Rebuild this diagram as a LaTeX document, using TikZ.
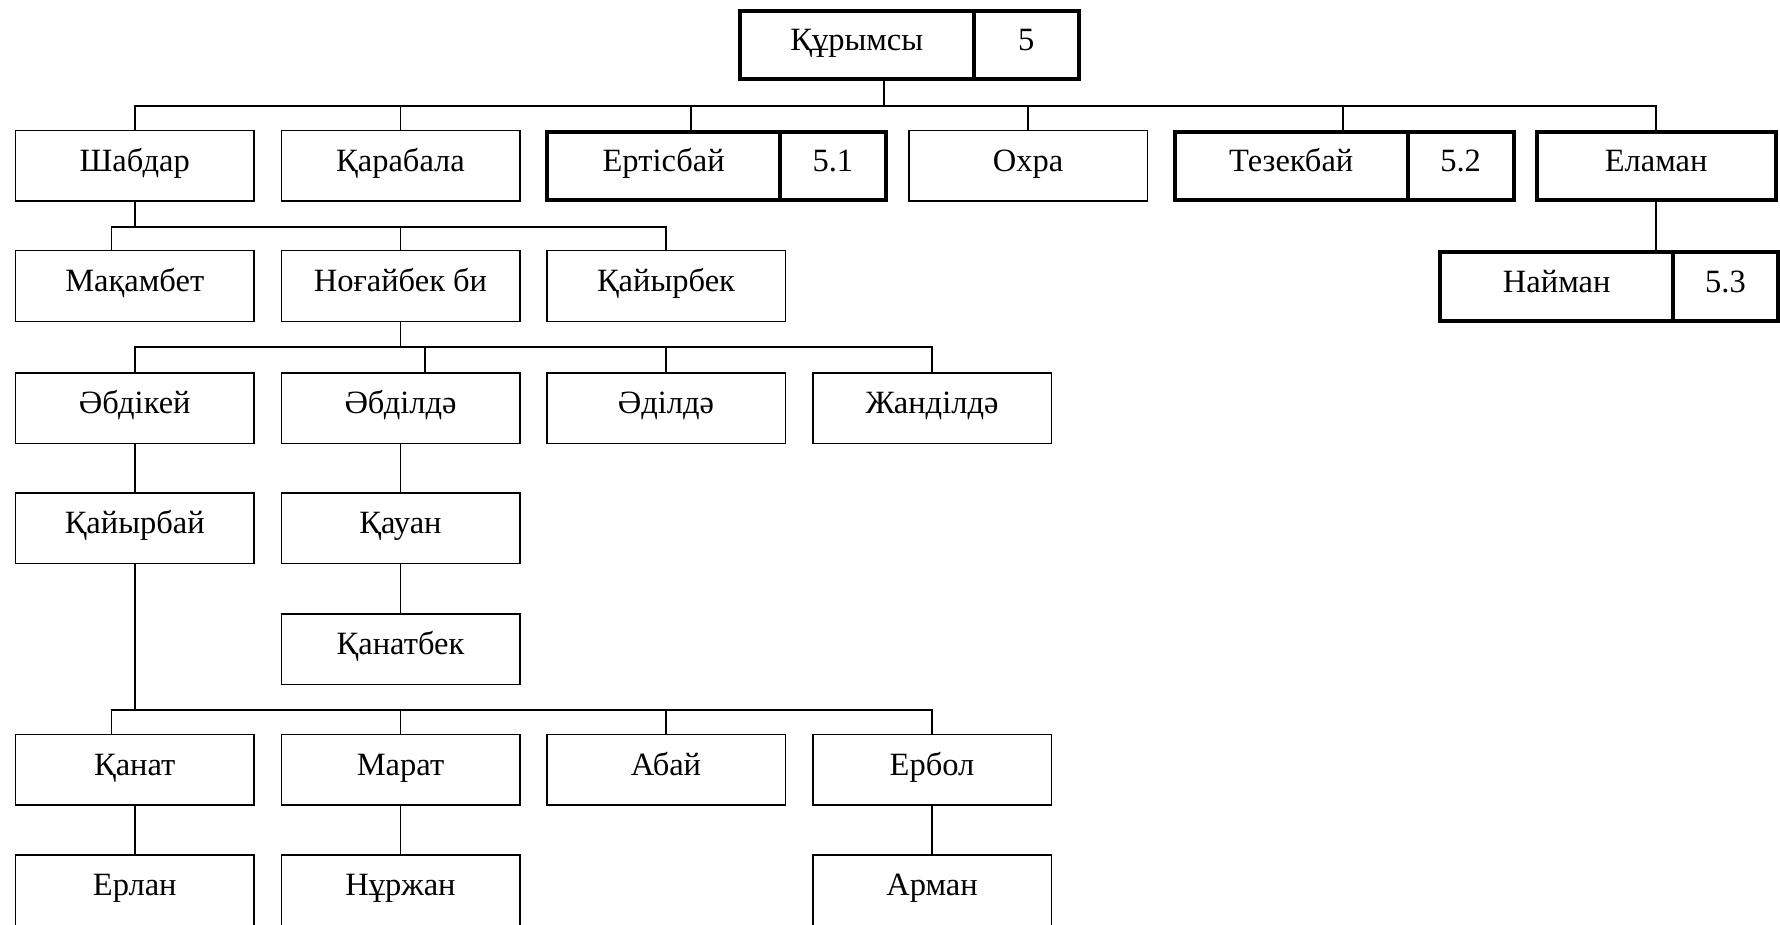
\documentclass[tikz,border=0pt]{standalone}
\usepackage{fontspec}
\setmainfont{Liberation Serif}
\tikzset{
  box/.style={draw, line width=1.5pt, minimum width=238.5pt, minimum height=70.5pt, inner sep=0pt,
    text height=23pt, text depth=11.6pt, font=\fontsize{32.5}{36}\selectfont},
  tbox/.style={box, line width=4pt, minimum height=68pt},
  conn/.style={line width=1.8pt},
}
\begin{document}
\begin{tikzpicture}[x=1pt, y=-1pt]
\useasboundingbox (0,0) rectangle (1780,925);
\clip (0,0) rectangle (1780,925);
% root
\node[tbox, minimum width=233.6pt] (root) at (856.8,45) {Құрымсы};
\node[tbox, minimum width=105.2pt] (rootn) at (1026.2,45) {5};
% row 1
\node[box] (shabdar) at (134.75,166) {Шабдар};
\node[box] (karabala) at (400.5,166) {Қарабала};
\node[tbox, minimum width=233.3pt] (ertis) at (663.65,166) {Ертісбай};
\node[tbox, minimum width=105.2pt] (ertisn) at (832.9,166) {5.1};
\node[box] (okhra) at (1028,166) {Охра};
\node[tbox, minimum width=233.1pt] (tezek) at (1291.25,166) {Тезекбай};
\node[tbox, minimum width=105.7pt] (tezekn) at (1460.65,166) {5.2};
\node[tbox, minimum width=238.9pt] (elaman) at (1656.15,166) {Еламан};
% row 2
\node[box] (makambet) at (134.75,286) {Мақамбет};
\node[box] (nogai) at (400.5,286) {Ноғайбек би};
\node[box] (kaiyrbek) at (666,286) {Қайырбек};
\node[tbox, minimum width=232.6pt] (naiman) at (1556.7,286.5) {Найман};
\node[tbox, minimum width=105pt] (naimann) at (1725.5,286.5) {5.3};
% row 3
\node[box] (abdikei) at (134.75,408) {Әбдікей};
\node[box] (abdilde) at (400.5,408) {Әбділдә};
\node[box] (adilde) at (666,408) {Әділдә};
\node[box] (zhandilde) at (932,408) {Жанділдә};
% row 4
\node[box] (kaiyrbai) at (134.75,528) {Қайырбай};
\node[box] (kauan) at (400.5,528) {Қауан};
% row 5
\node[box] (kanatbek) at (400.5,649) {Қанатбек};
% row 6
\node[box] (kanat) at (134.75,769.5) {Қанат};
\node[box] (marat) at (400.5,769.5) {Марат};
\node[box] (abai) at (666,769.5) {Абай};
\node[box] (erbol) at (932,769.5) {Ербол};
% row 7
\node[box] (erlan) at (134.75,890) {Ерлан};
\node[box] (nurzhan) at (400.5,890) {Нұржан};
\node[box] (arman) at (932,890) {Арман};

% junction coordinates
\coordinate (j0) at (883.7,106);
\coordinate (xe) at (691,0);
\coordinate (xt) at (1343,0);
\coordinate (j1) at (135,227);
\coordinate (xm) at (111.5,0);
\coordinate (j2) at (401,347);
\coordinate (xa) at (424.8,0);
\coordinate (j3) at (135.5,710);

% level 1
\draw[conn] (root.south -| j0) -- (j0);
\draw[conn] (shabdar.north) |- (elaman.north |- j0) -- (elaman.north);
\draw[conn] (j0 -| karabala.north) -- (karabala.north);
\draw[conn] (j0 -| xe) -- (ertis.north -| xe);
\draw[conn] (j0 -| okhra.north) -- (okhra.north);
\draw[conn] (j0 -| xt) -- (tezek.north -| xt);
% level 2
\draw[conn] (shabdar.south) -- (shabdar.south |- j1);
\draw[conn] (makambet.north -| xm) |- (kaiyrbek.north |- j1) -- (kaiyrbek.north);
\draw[conn] (j1 -| nogai.north) -- (nogai.north);
\draw[conn] (elaman.south) -- (elaman.south |- naiman.north);
% level 3
\draw[conn] (nogai.south) -- (nogai.south |- j2);
\draw[conn] (abdikei.north) |- (zhandilde.north |- j2) -- (zhandilde.north);
\draw[conn] (j2 -| xa) -- (abdilde.north -| xa);
\draw[conn] (j2 -| adilde.north) -- (adilde.north);
% level 4-5
\draw[conn] (abdikei.south) -- (kaiyrbai.north);
\draw[conn] (abdilde.south) -- (kauan.north);
\draw[conn] (kauan.south) -- (kanatbek.north);
% level 6
\draw[conn] (kaiyrbai.south) -- (kaiyrbai.south |- j3);
\draw[conn] (kanat.north -| xm) |- (erbol.north |- j3) -- (erbol.north);
\draw[conn] (j3 -| marat.north) -- (marat.north);
\draw[conn] (j3 -| abai.north) -- (abai.north);
% level 7
\draw[conn] (kanat.south) -- (erlan.north);
\draw[conn] (marat.south) -- (nurzhan.north);
\draw[conn] (erbol.south) -- (arman.north);
\end{tikzpicture}
\end{document}
